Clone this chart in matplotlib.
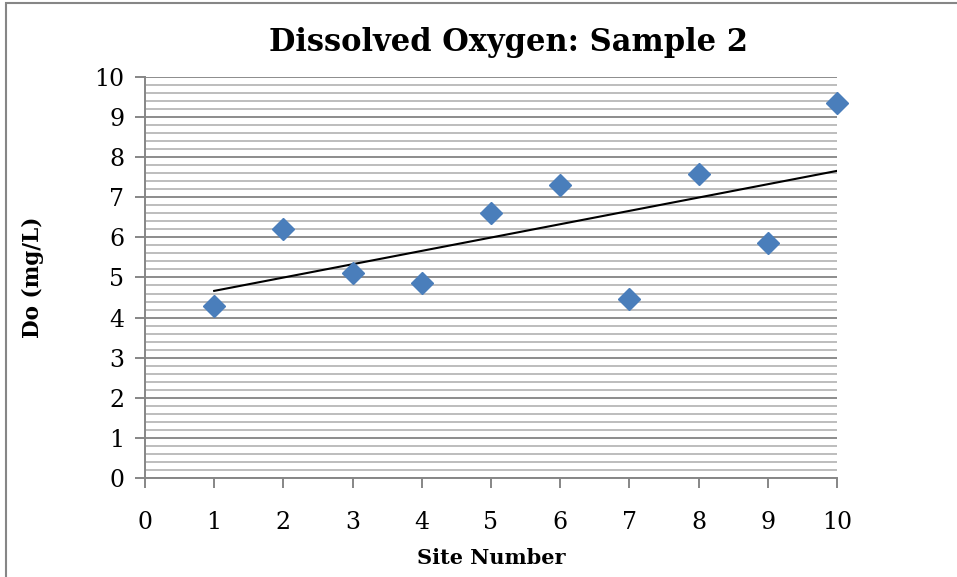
import numpy as np
import matplotlib
matplotlib.use("Agg")
import matplotlib.pyplot as plt
from matplotlib.patches import Rectangle
from matplotlib.ticker import MultipleLocator

# Data
site = [1, 2, 3, 4, 5, 6, 7, 8, 9, 10]
do_mgl = [4.3, 6.2, 5.12, 4.85, 6.6, 7.3, 4.47, 7.58, 5.85, 9.35]

plt.rcParams['font.family'] = ['DejaVu Serif']

fig = plt.figure(figsize=(9.57, 5.77), dpi=100)
ax = fig.add_axes([0.1515, 0.1716, 0.7231, 0.695])

# chart border
fig.patches.append(Rectangle((6 / 957, -0.01), 1.0, 1 - 3 / 577 + 0.01, transform=fig.transFigure,
                             fill=False, edgecolor="#868686", linewidth=1.5))

ax.set_xlim(0, 10)
ax.set_ylim(0, 10)
ax.xaxis.set_major_locator(MultipleLocator(1))
ax.yaxis.set_major_locator(MultipleLocator(1))
ax.yaxis.set_minor_locator(MultipleLocator(0.2))

ax.grid(axis="y", which="major", color="#8c8c8c", linewidth=1.4)
ax.grid(axis="y", which="minor", color="#bdbdbd", linewidth=1.4)
ax.set_axisbelow(True)

for s in ["top", "right"]:
    ax.spines[s].set_visible(False)
for s in ["left", "bottom"]:
    ax.spines[s].set_color("#868686")
    ax.spines[s].set_linewidth(1.4)

ax.tick_params(axis="both", which="major", color="#868686", width=1.4, length=7,
               labelsize=17, pad=8)
ax.tick_params(axis="y", which="minor", length=0)
ax.tick_params(axis="x", pad=17)

# linear trendline
coef = np.polyfit(site, do_mgl, 1)
xs = np.array([site[0], site[-1]])
ax.plot(xs, np.polyval(coef, xs), color="black", linewidth=1.5, zorder=3)

ax.plot(site, do_mgl, linestyle="none", marker="D", markersize=11,
        color="#4a7ebb", markeredgecolor="#4a7ebb", zorder=4, clip_on=False)

fig.text(0.531, 0.927, "Dissolved Oxygen: Sample 2", ha="center", va="center",
         fontsize=22, fontweight="bold")
fig.text(0.513, 0.033, "Site Number", ha="center", va="center",
         fontsize=15, fontweight="bold")
fig.text(0.034, 0.52, "Do (mg/L)", ha="center", va="center", rotation=90,
         fontsize=15.5, fontweight="bold")

fig.savefig("out.png", dpi=100)
